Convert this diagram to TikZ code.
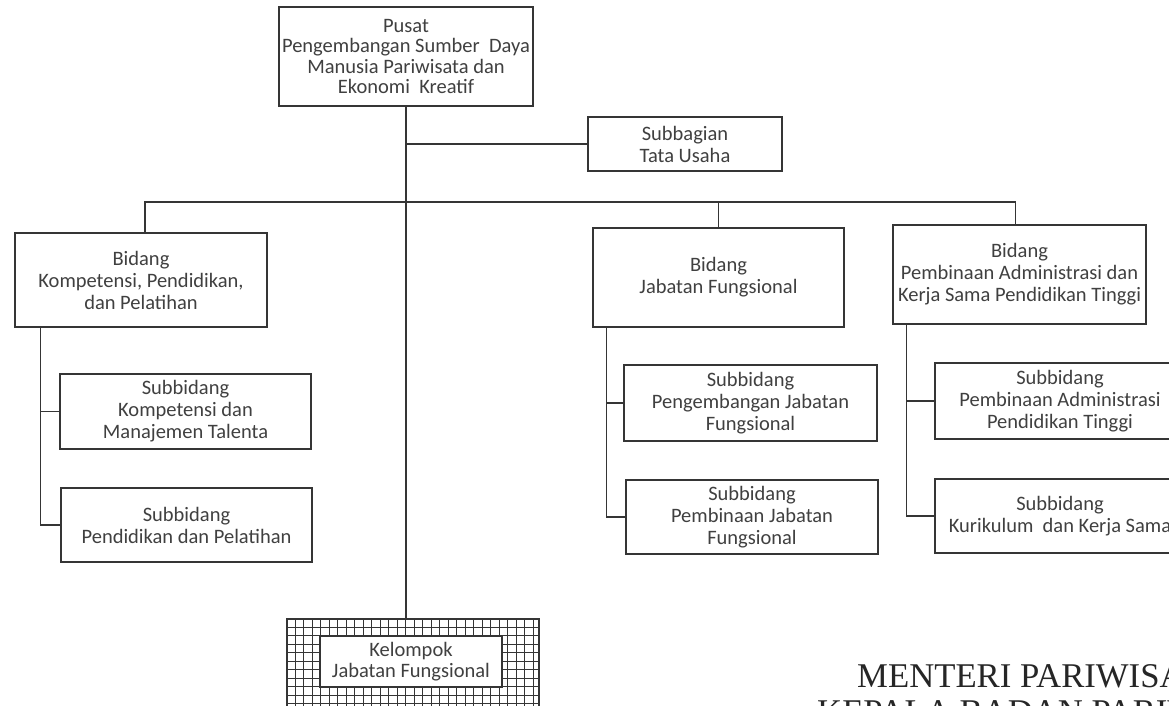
\documentclass[tikz,border=0pt]{standalone}
\usepackage{fontspec}
\usetikzlibrary{calc}
\setmainfont{Carlito}
\newfontfamily\sigfont{Liberation Serif}
\definecolor{ink}{HTML}{353535}
\definecolor{txt}{HTML}{404040}
\begin{document}
\begin{tikzpicture}[x=1pt,y=-1pt,
  box/.style={draw=ink, line width=1.2pt, fill=white, align=center, text=txt,
    inner sep=2pt, font=\fontsize{20.5}{22}\selectfont},
  conn/.style={draw=ink, line width=1.2pt},
  grid line/.style={draw=ink, line width=0.8pt}]
\path[use as bounding box, clip] (0,0) rectangle (1169,706);
\fill[white] (0,0) rectangle (1169,706);

% boxes
\node[box, minimum width=254pt, minimum height=99pt, font=\fontsize{20.5}{20.5}\selectfont] (pusat) at (406,56.5)
  {Pusat\\Pengembangan Sumber\ \ Daya\\Manusia Pariwisata dan\\Ekonomi\ \ Kreatif};
\node[box, minimum width=194pt, minimum height=54pt] (tu) at (685,144)
  {Subbagian\\Tata Usaha};
\node[box, minimum width=252pt, minimum height=94pt] (kpp) at (141,280)
  {Bidang\\Kompetensi, Pendidikan,\\dan Pelatihan};
\node[box, minimum width=251pt, minimum height=99pt] (jf) at (718.5,277.5)
  {Bidang\\Jabatan Fungsional};
\node[box, minimum width=253pt, minimum height=99pt] (paks) at (1019.5,274.5)
  {Bidang\\Pembinaan Administrasi dan\\Kerja Sama Pendidikan Tinggi};
\node[box, minimum width=251pt, minimum height=75pt] (kmt) at (185.5,411.5)
  {Subbidang\\Kompetensi dan\\Manajemen Talenta};
\node[box, minimum width=251pt, minimum height=74pt] (pp) at (186.5,525)
  {Subbidang\\Pendidikan dan Pelatihan};
\node[box, minimum width=253pt, minimum height=76pt] (pjf) at (750.5,403)
  {Subbidang\\Pengembangan Jabatan\\Fungsional};
\node[box, minimum width=252pt, minimum height=74pt] (pemjf) at (752,517)
  {Subbidang\\Pembinaan Jabatan\\Fungsional};
\node[box, minimum width=250pt, minimum height=76pt] (papt) at (1060,401)
  {Subbidang\\Pembinaan Administrasi\\Pendidikan Tinggi};
\node[box, minimum width=250pt, minimum height=74pt] (kks) at (1060,516)
  {Subbidang\\Kurikulum\ \ dan Kerja Sama};

% Kelompok jabatan fungsional (hatched frame)
\node[draw=ink, line width=1.2pt, minimum width=252pt, minimum height=110pt] (kel) at (413,674) {};
\begin{scope}
  \clip (kel.south west) rectangle (kel.north east);
  \foreach \i in {0,...,30} {
    \draw[grid line] ($(kel.north west)+(8.5*\i,0)$) -- ++(0,120);
  }
  \foreach \j in {0,...,13} {
    \draw[grid line] ($(kel.north west)+(0,8.5*\j)$) -- ++(260,0);
  }
\end{scope}
\node[box, minimum width=182pt, minimum height=51pt, font=\fontsize{20.5}{21}\selectfont] (kelin) at (411,661.5)
  {Kelompok\\Jabatan Fungsional};

% connectors
\coordinate (bus) at (408,202);
\draw[conn] (pusat.south) -- (pusat.south |- kel.north);
\draw[conn] (pusat.south |- tu.west) -- (tu.west);
\coordinate (kt) at ([xshift=4pt]kpp.north);
\draw[conn] (kt) |- (bus) -| ([xshift=-4pt]paks.north);
\draw[conn] (jf.north) -- (jf.north |- bus);

\coordinate (lk) at ([xshift=26pt]kpp.south west);
\draw[conn] (lk) |- (pp.west);
\draw[conn] (lk |- kmt.west) -- (kmt.west);

\coordinate (mk) at ([xshift=14pt]jf.south west);
\draw[conn] (mk) |- (pemjf.west);
\draw[conn] (mk |- pjf.west) -- (pjf.west);

\coordinate (rk) at ([xshift=14pt]paks.south west);
\draw[conn] (rk) |- (kks.west);
\draw[conn] (rk |- papt.west) -- (papt.west);

% signature text
\node[anchor=base west, inner sep=0pt, text=black!85, font=\sigfont\fontsize{34.7}{36}\selectfont] (menteri) at (857,687) {MENTERI PARIWISA};
\node[anchor=base west, inner sep=0pt, text=black!85, font=\sigfont\fontsize{34.7}{36}\selectfont] (kepala) at (817,723) {KEPALA BADAN PARIW};
\end{tikzpicture}
\end{document}
